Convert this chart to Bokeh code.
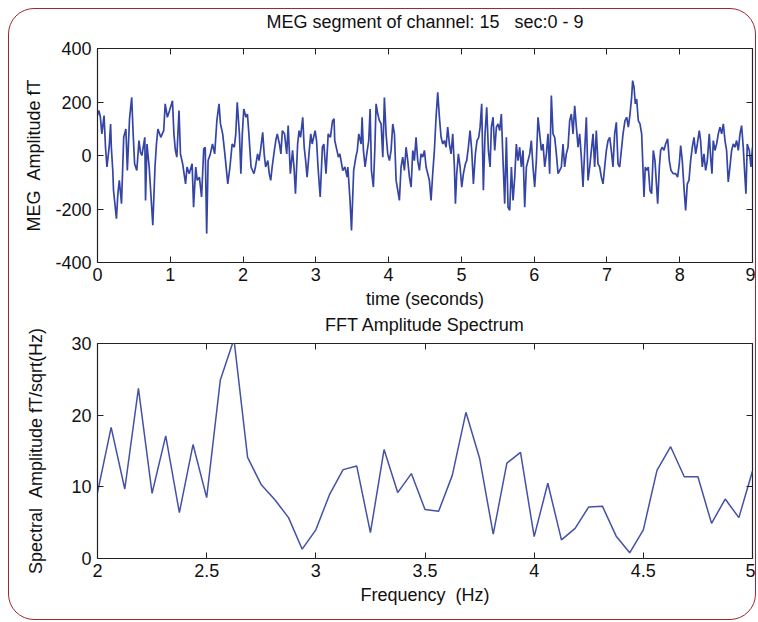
from bokeh.plotting import figure
from bokeh.layouts import column
from bokeh.models import LinearAxis, FixedTicker, Range1d, NumeralTickFormatter
from bokeh.embed import file_html
from bokeh.resources import INLINE

# ---------------- data: MEG segment (time in s, amplitude in fT) -------------
t_seg1 = [0.00, 0.02, 0.04, 0.06, 0.09, 0.11, 0.13, 0.16, 0.18, 0.19,
          0.21, 0.22, 0.26, 0.28, 0.30, 0.33, 0.36, 0.39, 0.41, 0.44,
          0.47, 0.49, 0.51, 0.54, 0.57, 0.59, 0.61, 0.65, 0.66, 0.68,
          0.71, 0.73, 0.76, 0.79, 0.81, 0.83, 0.87, 0.89, 0.91, 0.93,
          0.96, 0.99, 1.03, 1.05, 1.07, 1.09, 1.12, 1.14, 1.17, 1.21,
          1.23, 1.26, 1.30, 1.32, 1.35, 1.37, 1.40, 1.43, 1.46, 1.48,
          1.50, 1.52, 1.55, 1.58, 1.61, 1.64, 1.67, 1.69, 1.72, 1.75]
meg_seg1 = [150, 168, 143, 81, 149, 31, -43, 31, 118, 31,
            -56, -130, -236, -143, -93, -180, 68, 99, -56, 137,
            217, 81, -31, -56, 56, 12, 0, 68, -168, 43,
            -43, -130, -261, -43, 43, 99, 68, 81, 93, 193,
            143, 168, 205, 81, 19, -6, 168, 6, -31, -106,
            -43, -68, -31, -193, -43, -93, -81, -155, 25, 31,
            -292, -19, 6, 43, 6, 130, 193, 118, 81, 6]

t_seg2 = [1.79, 1.82, 1.85, 1.88, 1.90, 1.92, 1.95, 1.97, 1.99, 2.01,
          2.04, 2.06, 2.08, 2.11, 2.13, 2.15, 2.17, 2.20, 2.22, 2.24,
          2.27, 2.29, 2.31, 2.34, 2.36, 2.38, 2.40, 2.43, 2.45, 2.47,
          2.50, 2.52, 2.54, 2.57, 2.60, 2.62, 2.65, 2.68, 2.70, 2.72,
          2.75, 2.77, 2.79, 2.82, 2.84, 2.86, 2.88, 2.91, 2.93, 2.95,
          2.99, 3.01, 3.03, 3.06, 3.09, 3.11, 3.14, 3.17, 3.20, 3.23,
          3.25, 3.26, 3.29, 3.31, 3.33, 3.37, 3.40, 3.43, 3.44, 3.47,
          3.49, 3.52, 3.55, 3.57, 3.59]
meg_seg2 = [-106, -43, 43, 31, 81, 199, 81, -68, 81, 174,
            143, 155, 81, -43, -56, -68, -43, 6, -19, 19,
            87, 6, -43, -19, -68, -93, -43, 19, 56, 81,
            43, 6, 93, 81, 6, 112, -68, 19, -43, -143,
            43, 93, 68, 143, 31, -19, -81, 19, 81, 43,
            93, 56, -43, -155, 31, 43, -68, 81, 68, 130,
            137, 56, 19, -6, 6, -56, -43, -81, -43, -168,
            -280, -56, -6, 19, 81]

t_seg3 = [3.622, 3.636, 3.654, 3.677, 3.700, 3.727, 3.746, 3.764, 3.791, 3.810,
          3.828, 3.851, 3.874, 3.897, 3.920, 3.942, 3.965, 3.988, 4.011, 4.034,
          4.057, 4.080, 4.103, 4.126, 4.148, 4.171, 4.194, 4.217, 4.240, 4.263,
          4.286, 4.309, 4.332, 4.354, 4.377, 4.400, 4.423, 4.446, 4.469, 4.492,
          4.515, 4.538, 4.560, 4.583, 4.606, 4.629, 4.652, 4.675, 4.698, 4.721,
          4.744, 4.767, 4.789, 4.812, 4.835, 4.858, 4.881, 4.904,
          4.918, 4.936, 4.959, 4.982, 5.005, 5.028, 5.055, 5.073, 5.096, 5.119,
          5.142, 5.165, 5.192, 5.215, 5.238, 5.257, 5.279, 5.302, 5.325, 5.348,
          5.371, 5.394]
meg_seg3 = [43, 143, 19, -43, 6, 56, 174, -56, -118, 19,
            193, 155, 130, 118, -6, 217, 81, 6, -19, 19,
            118, 81, -93, -130, -168, -43, -6, -56, 31, -19,
            -81, -118, 19, -19, 68, -19, -56, 6, -6, 19,
            -43, -68, -93, -168, -68, 19, 143, 236, 143, 68,
            43, 56, 31, 106, 43, 6, 81, -43,
            -180, -68, 6, -43, -118, -68, -31, -19, 31, 93,
            19, -106, 6, 56, 68, 106, 193, -130, 81, 180,
            19, -43]

t_seg4 = [5.412, 5.435, 5.458, 5.481, 5.504, 5.526, 5.549, 5.572, 5.595, 5.618,
          5.641, 5.664, 5.687, 5.710, 5.733, 5.755, 5.778, 5.801, 5.824, 5.847,
          5.870, 5.893, 5.916, 5.939, 5.961, 5.984, 6.007, 6.030, 6.053, 6.076,
          6.099, 6.122, 6.145, 6.168, 6.190, 6.213, 6.236, 6.259, 6.282, 6.305,
          6.328, 6.351, 6.374, 6.396, 6.419, 6.442, 6.465, 6.488, 6.511, 6.534,
          6.557, 6.580, 6.603, 6.625, 6.648, 6.671, 6.694, 6.717, 6.740, 6.763,
          6.786, 6.809, 6.831, 6.854, 6.877, 6.900, 6.923, 6.946, 6.969, 6.992,
          7.015, 7.038, 7.060, 7.083, 7.106, 7.129, 7.152, 7.175, 7.198, 7.221]
meg_seg4 = [106, 143, 19, 106, 118, 93, 155, -19, -180, 68,
            -193, -205, -43, -168, -81, 43, -19, 31, -43, 19,
            -193, -43, -19, 6, 56, -43, -118, -19, 143, 81,
            19, 43, -43, 6, 81, -68, 224, 81, 68, 6,
            -68, -56, -43, 43, -43, 6, 31, 130, 155, 81,
            186, 106, 31, 81, -6, -118, 19, 143, -93, -43,
            19, 81, -43, 93, -31, -43, -81, -106, -43, 19,
            56, 68, 19, -43, 81, 124, -31, -43, 19, 81]

t_seg5 = [7.248, 7.271, 7.294, 7.317, 7.339, 7.353, 7.372, 7.390, 7.408, 7.431,
          7.454, 7.477, 7.491, 7.509, 7.527, 7.546, 7.568, 7.591, 7.614, 7.637,
          7.660, 7.674, 7.697, 7.720, 7.738, 7.761, 7.784, 7.806, 7.834, 7.857,
          7.880, 7.912, 7.944, 7.971, 7.994, 8.013, 8.035, 8.058, 8.081, 8.104,
          8.127, 8.150, 8.173, 8.196, 8.219, 8.242, 8.269, 8.287, 8.310, 8.333,
          8.356, 8.379, 8.406, 8.425, 8.443, 8.461, 8.484, 8.507, 8.530, 8.553,
          8.576, 8.599, 8.622, 8.644, 8.667, 8.690, 8.713, 8.736, 8.759, 8.782,
          8.805, 8.828, 8.850, 8.873, 8.896, 8.910, 8.928, 8.956, 8.979, 9.000]
meg_seg5 = [130, 143, 106, 155, 217, 280, 255, 193, 211, 130,
            118, 81, -19, -155, -43, -56, -43, -130, -143, 19,
            -19, -81, -180, -43, 19, 31, 19, 43, 62, -19,
            -56, -68, -68, -81, -31, 37, -19, -118, -205, -106,
            -93, -19, 31, 68, 6, 43, 93, 56, -43, 6,
            -56, -19, 81, -6, -68, 56, 19, 43, 81, 106,
            81, 118, 56, 19, -99, -43, 19, 43, 31, 56,
            19, 81, 112, 31, -81, -143, 43, 19, -43, 30]

time_s = t_seg1 + t_seg2 + t_seg3 + t_seg4 + t_seg5
meg_ft = meg_seg1 + meg_seg2 + meg_seg3 + meg_seg4 + meg_seg5

# ---------------- data: FFT amplitude spectrum -------------------------------
freq_hz = [2.0000, 2.0625, 2.1250, 2.1875, 2.2500, 2.3125, 2.3750, 2.4375,
           2.5000, 2.5625, 2.6250, 2.6875, 2.7500, 2.8125, 2.8750, 2.9375,
           3.0000, 3.0625, 3.1250, 3.1875, 3.2500, 3.3125, 3.3750, 3.4375,
           3.5000, 3.5625, 3.6250, 3.6875, 3.7500, 3.8125, 3.8750, 3.9375,
           4.0000, 4.0625, 4.1250, 4.1875, 4.2500, 4.3125, 4.3750, 4.4375,
           4.5000, 4.5625, 4.6250, 4.6875, 4.7500, 4.8125, 4.8750, 4.9375,
           5.0000]
spec_amp = [9.2, 18.3, 9.7, 23.75, 9.1, 17.1, 6.4, 15.9,
            8.5, 24.9, 30.6, 14.1, 10.3, 8.2, 5.7, 1.3,
            4.0, 8.9, 12.4, 12.9, 3.6, 15.2, 9.2, 11.85,
            6.85, 6.6, 11.6, 20.4, 14.0, 3.4, 13.3, 14.8,
            3.05, 10.5, 2.6, 4.2, 7.2, 7.3, 3.15, 0.8,
            4.0, 12.3, 15.6, 11.4, 11.4, 4.9, 8.3, 5.7,
            12.2]

time_ticks = [0, 1, 2, 3, 4, 5, 6, 7, 8, 9]
meg_ticks = [-400, -200, 0, 200, 400]
freq_ticks = [2, 2.5, 3, 3.5, 4, 4.5, 5]
amp_ticks = [0, 10, 20, 30]

NB = "\u00a0"
FONT = "Liberation Sans"
FS = "18px"


def style(p, xticks, yticks, xfmt, yfmt, title_lift):
    p.grid.visible = False
    p.outline_line_color = "#222222"
    p.outline_line_width = 1.2
    p.background_fill_color = "white"
    p.border_fill_color = None
    p.title.align = "center"
    p.title.text_font = FONT
    p.title.text_font_size = FS
    p.title.text_font_style = "normal"
    p.title.text_color = "#111111"
    p.title.standoff = 0
    p.title.padding = dict(left=0, right=0, top=0, bottom=title_lift)
    for ax, tk, fm in ((p.xaxis[0], xticks, xfmt), (p.yaxis[0], yticks, yfmt)):
        ax.ticker = FixedTicker(ticks=tk)
        ax.formatter = fm
        ax.major_tick_in = 6
        ax.major_tick_out = 0
        ax.minor_tick_in = 0
        ax.minor_tick_out = 0
        ax.axis_line_color = "#222222"
        ax.major_tick_line_color = "#222222"
        ax.major_label_text_font = FONT
        ax.major_label_text_font_size = FS
        ax.major_label_text_color = "#111111"
        ax.axis_label_text_font = FONT
        ax.axis_label_text_font_size = FS
        ax.axis_label_text_font_style = "normal"
        ax.axis_label_text_color = "#111111"
    p.yaxis[0].major_label_standoff = 6
    for side, tk in (("above", xticks), ("right", yticks)):
        extra = LinearAxis(ticker=FixedTicker(ticks=tk),
                           major_label_text_font_size="1px",
                           major_label_text_color=None,
                           major_label_text_alpha=0,
                           major_label_standoff=0,
                           major_tick_in=6, major_tick_out=0,
                           minor_tick_in=0, minor_tick_out=0,
                           axis_line_color=None,
                           major_tick_line_color="#222222")
        p.add_layout(extra, side)


top = figure(width=746, height=303, output_backend="svg", toolbar_location=None,
             x_range=Range1d(0, 9), y_range=Range1d(-400, 400),
             min_border_left=88, min_border_right=3,
             min_border_top=37, min_border_bottom=50,
             title="MEG segment of channel: 15" + NB * 3 + "sec:0 - 9",
             x_axis_label="time (seconds)",
             y_axis_label="MEG" + NB * 2 + "Amplitude fT")
top.line(time_s, meg_ft, line_color="#3545a6", line_width=1.7)
style(top, time_ticks, meg_ticks, NumeralTickFormatter(format="0"),
      NumeralTickFormatter(format="0"), 17)
top.xaxis[0].major_label_standoff = 8
top.xaxis[0].axis_label_standoff = 2
top.yaxis[0].axis_label_standoff = 8

bot = figure(width=746, height=307, output_backend="svg", toolbar_location=None,
             x_range=Range1d(2, 5), y_range=Range1d(0, 30),
             min_border_left=88, min_border_right=3,
             min_border_top=29, min_border_bottom=61,
             title="FFT Amplitude Spectrum",
             x_axis_label="Frequency" + NB * 2 + "(Hz)",
             y_axis_label="Spectral" + NB * 2 + "Amplitude fT/sqrt(Hz)")
bot.line(freq_hz, spec_amp, line_color="#4451a6", line_width=1.5)
style(bot, freq_ticks, amp_ticks, NumeralTickFormatter(format="0.[0]"),
      NumeralTickFormatter(format="0"), 9)
bot.xaxis[0].major_label_standoff = 10
bot.xaxis[0].axis_label_standoff = 7
bot.yaxis[0].axis_label_standoff = 22

layout = column(top, bot, spacing=0,
                styles={"border": "1.5px solid #a3262a",
                        "border-radius": "26px",
                        "margin-left": "8px",
                        "margin-top": "8px",
                        "background-color": "white"})

open("out.html", "w").write(file_html(layout, INLINE))
